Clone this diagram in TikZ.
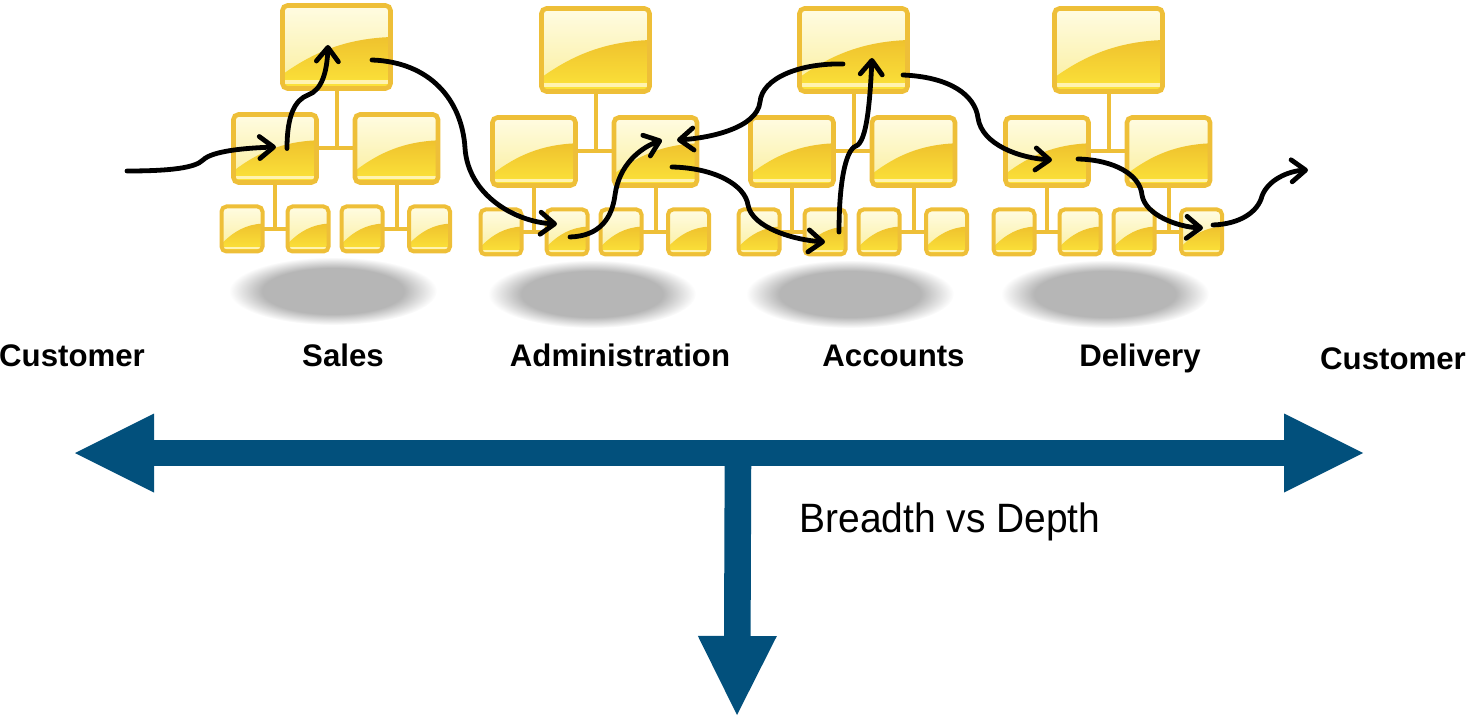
\documentclass[tikz,border=0pt]{standalone}
\usepackage{fontspec}
\setmainfont{Liberation Sans}
\usetikzlibrary{arrows.meta,calc,backgrounds}

\definecolor{boxrim}{HTML}{EEBF38}
\definecolor{boxpale}{HTML}{FFFCE2}
\definecolor{boxlight}{HTML}{FAEE9C}
\definecolor{boxgold}{HTML}{EFC22E}
\definecolor{boxbright}{HTML}{FCE43A}
\definecolor{boxstripe}{HTML}{FFF3B0}
\definecolor{shadowgray}{HTML}{B6B6B6}
\definecolor{spanblue}{HTML}{02507C}

\pgfdeclareradialshading{floorshadow}{\pgfpoint{0bp}{0bp}}{color(0bp)=(shadowgray); color(17bp)=(shadowgray); color(25bp)=(white); color(50bp)=(white)}

\tikzset{
  gloss/.style={path picture={
    \shade[sharp corners, top color=boxpale, bottom color=boxlight]
      (path picture bounding box.south west) rectangle (path picture bounding box.north east);
    \shade[sharp corners, top color=boxgold, bottom color=boxbright]
      let \p1=(path picture bounding box.south west), \p2=(path picture bounding box.north east) in
      (\x1,\y1) -- (\x1,{\y1+0.17*(\y2-\y1)})
      .. controls ({\x1+0.3*(\x2-\x1)},{\y1+0.45*(\y2-\y1)}) and ({\x1+0.6*(\x2-\x1)},{\y1+0.6*(\y2-\y1)})
      .. (\x2,{\y1+0.62*(\y2-\y1)}) -- (\x2,\y1) -- cycle;
    \fill[sharp corners, boxstripe]
      let \p1=(path picture bounding box.south west), \p2=(path picture bounding box.north east) in
      (\x1,{\y1+0.05*(\y2-\y1)}) rectangle (\x2,{\y1+0.1*(\y2-\y1)});
    }},
  orgbox/.style={rectangle, inner sep=0pt, rounded corners=2.5pt, draw=boxrim, line width=2.3pt, fill=boxpale, gloss},
  topbox/.style={orgbox, minimum width=54pt, minimum height=41.5pt},
  midbox/.style={orgbox, minimum width=41.5pt, minimum height=34pt},
  lowbox/.style={orgbox, minimum width=20.5pt, minimum height=22.5pt, line width=2pt},
  orgline/.style={draw=boxrim, line width=2pt},
  flow/.style={line width=2.4pt, line cap=round, -{Straight Barb[round,length=7pt,width=11pt]}},
  span/.style={draw=spanblue, line width=13.3pt},
  spantip/.tip={Triangle[length=39.5pt,width=39.5pt,line width=0pt]},
  lbl/.style={anchor=base, font=\bfseries\fontsize{15.6pt}{18pt}\selectfont},
}

\begin{document}
\begin{tikzpicture}[x=0.5pt,y=-0.5pt]
  \useasboundingbox (0,0) rectangle (1466,716);

  \foreach \c/\dx/\dy in {s/0/0,a/259/3,c/517/3,d/772/3}{
    \begin{scope}[shift={(\dx,\dy)}]
      \node[topbox] (\c-top) at (336.5,47) {};
      \node[midbox] (\c-ml) at (275,148.5) {};
      \node[midbox] (\c-mr) at (396.5,148.5) {};
      \node[lowbox] (\c-b1) at (242,229) {};
      \node[lowbox] (\c-b2) at (308,229) {};
      \node[lowbox] (\c-b3) at (362,229) {};
      \node[lowbox] (\c-b4) at (429.5,229) {};
      \begin{scope}[on background layer]
        \shade[shading=floorshadow] (333,291) ellipse [x radius=52pt, y radius=17pt];
        \draw[orgline] (\c-top.center) -- (\c-top.center |- \c-ml.center);
        \draw[orgline] (\c-ml.center) -- (\c-mr.center);
        \draw[orgline] (\c-ml.center) -- (\c-ml.center |- \c-b1.center);
        \draw[orgline] (\c-b1.center) -- (\c-b2.center);
        \draw[orgline] (\c-mr.center) -- (\c-mr.center |- \c-b3.center);
        \draw[orgline] (\c-b3.center) -- (\c-b4.center);
      \end{scope}
    \end{scope}
  }

  \coordinate (cust-in) at (127,171);
  \coordinate (cust-out) at (1308,170);

  \draw[flow] (cust-in) .. controls (170,171) and (195,168) .. (203,160) .. controls (212,151) and (245,148) .. ($(s-ml)+(1,-1.5)$);
  \draw[flow] ($(s-ml)+(12,0)$) .. controls (287,115) and (295,100) .. (308,95) .. controls (322,90) and (327,72) .. ($(s-top)+(-8.5,-2)$);
  \draw[flow] ($(s-top)+(35.5,13)$) .. controls (430,62) and (462,100) .. (465,148) .. controls (468,195) and (515,222) .. ($(a-b2)+(-10,-8)$);
  \draw[flow] ($(a-b2)+(3,5)$) .. controls (600,236) and (612,218) .. (615,195) .. controls (619,165) and (640,148) .. ($(a-mr)+(6.5,-11.5)$);
  \draw[flow] ($(c-top)+(-10.5,14)$) .. controls (800,63) and (762,78) .. (760,102) .. controls (757,128) and (710,138) .. ($(a-mr)+(21.5,-11.5)$);
  \draw[flow] ($(a-mr)+(16.5,15.5)$) .. controls (715,168) and (745,185) .. (748,205) .. controls (752,228) and (795,240) .. ($(c-b2)+(0,10)$);
  \draw[flow] ($(c-b2)+(14,0)$) .. controls (839,185) and (845,150) .. (856,146) .. controls (867,142) and (870,100) .. ($(c-top)+(18.5,8)$);
  \draw[flow] ($(c-top)+(49.5,25)$) .. controls (950,77) and (975,95) .. (978,118) .. controls (982,145) and (1020,158) .. ($(d-ml)+(5,8.5)$);
  \draw[flow] ($(d-ml)+(31,7.5)$) .. controls (1115,160) and (1140,175) .. (1142,195) .. controls (1145,215) and (1178,227) .. ($(d-b4)+(1.5,-4)$);
  \draw[flow] ($(d-b4)+(11.5,-7)$) .. controls (1240,224) and (1258,212) .. (1262,196) .. controls (1268,180) and (1288,171) .. (cust-out);

  \node[lbl] (cust-l) at (72,367) {Customer};
  \node[lbl] (sales-l) at (343,367) {Sales};
  \node[lbl] (admin-l) at (620,367) {Administration};
  \node[lbl] (acct-l) at (893.5,367) {Accounts};
  \node[lbl] (deliv-l) at (1140,367) {Delivery};
  \node[lbl] (cust-r) at (1393,370) {Customer};

  \coordinate (span-w) at (75,453);
  \coordinate (span-e) at (1363,453);
  \coordinate (span-hub) at (738,453);
  \coordinate (span-s) at (737,715);
  \draw[span, -{spantip}] (span-hub) -- (span-s);
  \draw[span, {spantip}-{spantip}] (span-w) -- (span-e);

  \node[anchor=base, font=\fontsize{20.5pt}{24pt}\selectfont, xscale=0.95, transform shape] (depth-l) at (950,532) {Breadth vs Depth};
\end{tikzpicture}
\end{document}
